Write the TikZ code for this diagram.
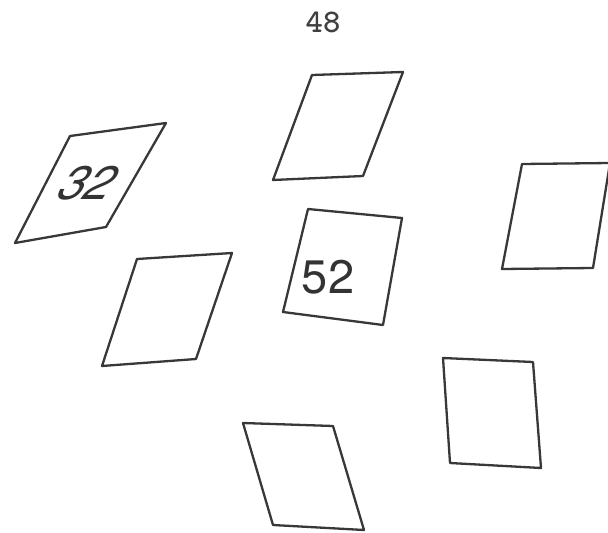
\documentclass[tikz,border=0pt]{standalone}
\usepackage{fontspec}
\newfontfamily\labelfont{TeX Gyre Heros}
\begin{document}
\begin{tikzpicture}[x=1pt,y=-1pt,
  card/.style={draw=black!78,line width=2.3pt,line join=round,fill=white},
  bignum/.style={font=\labelfont\fontsize{47}{47}\selectfont,text=black!80,inner sep=0pt},
  pagenum/.style={font=\ttfamily\fontsize{33}{33}\selectfont,text=black!75,inner sep=0pt}]
\useasboundingbox (0,0) rectangle (608,533);
\begin{scope}
\clip (0,0) rectangle (608,533);
% top-left card with 32
\draw[card] (70,136) -- (166,123) -- (106,227) -- (15,243) -- cycle;
% top centre
\draw[card] (312,75) -- (403,72) -- (363,176) -- (273,180) -- cycle;
% right
\draw[card] (522,164) -- (610,163) -- (593,268) -- (502,269) -- cycle;
% left lower
\draw[card] (137,259) -- (232,253) -- (196,359) -- (102,366) -- cycle;
% centre with 52
\draw[card] (308,209) -- (402,218) -- (383,325) -- (283,312) -- cycle;
% right lower
\draw[card] (443,358) -- (533,362) -- (541,468) -- (450,463) -- cycle;
% bottom
\draw[card] (243,423) -- (333,426) -- (364,530) -- (273,525) -- cycle;
\end{scope}
\node[bignum,xslant=0.4] (n32) at (88,183) {\itshape 32};
\node[bignum] (n52) at (328,277) {52};
\node[pagenum] (n48) at (323,22) {\bfseries 48};
\end{tikzpicture}
\end{document}
